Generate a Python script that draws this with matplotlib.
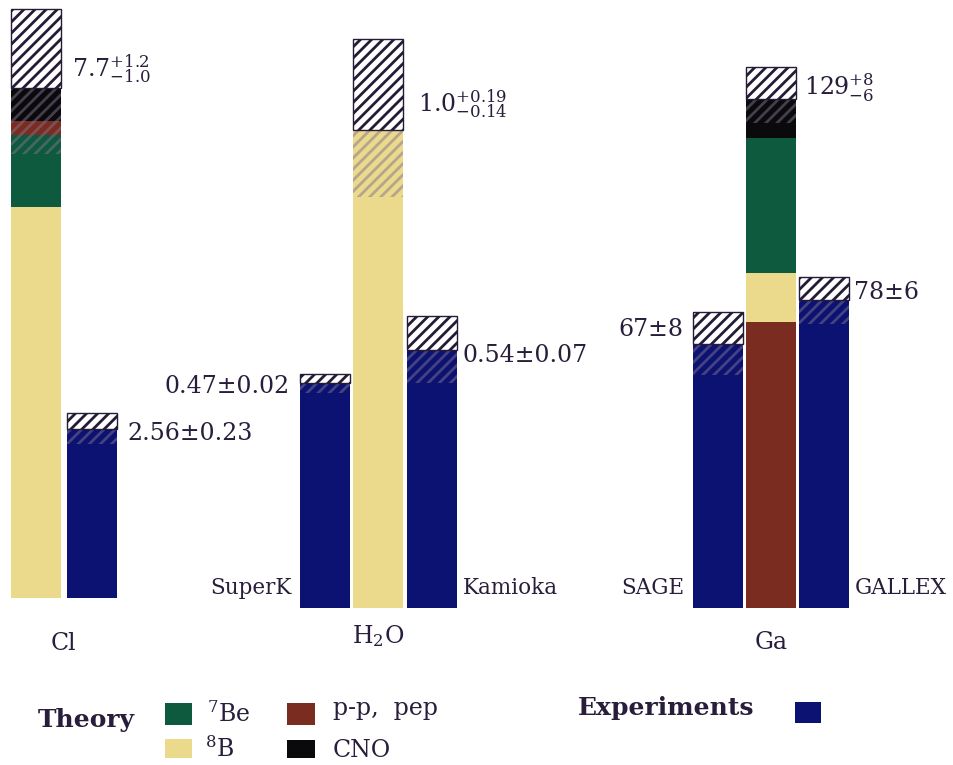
import matplotlib.pyplot as plt
from matplotlib.patches import Rectangle

# ---- data ---------------------------------------------------------------
groups = ["Cl", "H$_2$O", "Ga"]

# theory contributions per target, stacked bottom -> top
theory_sources = [
    ["8B", "7Be", "pp", "CNO"],
    ["8B"],
    ["pp", "8B", "7Be", "CNO"],
]
theory_values = [
    [5.9, 1.1, 0.2, 0.5],      # Cl, SNU
    [1.0],                     # H2O, ratio to SSM
    [72.4, 12.4, 34.4, 9.8],   # Ga, SNU
]
theory_err = [(1.2, 1.0), (0.19, 0.14), (8, 6)]
theory_labels = [r"7.7$^{+1.2}_{-1.0}$", r"1.0$^{+0.19}_{-0.14}$", r"129$^{+8}_{-6}$"]

exp_names = [[""], ["SuperK", "Kamioka"], ["SAGE", "GALLEX"]]
exp_values = [[2.56], [0.47, 0.54], [67, 78]]
exp_err = [[0.23], [0.02, 0.07], [8, 6]]
exp_labels = [["2.56\u00b10.23"], ["0.47\u00b10.02", "0.54\u00b10.07"], ["67\u00b18", "78\u00b16"]]

colors = {"7Be": "#0e5a3e", "8B": "#ebd98c", "pp": "#7b2c21", "CNO": "#0a0a0c"}
exp_color = "#0b1272"
text_color = "#281d3a"
hatch_dark = "#241b36"
hatch_soft = (0.5, 0.45, 0.55, 0.5)

# ---- layout (pixels of the 954x765 canvas) ------------------------------
W, H = 954, 765
layout = [
    dict(base=598, scale=66.2, x0=35.5, step=56, bw=50, slots=[1], th=0,
         th_off=(11, 12), exp_off=[(11, -11)], grp_dy=52),
    dict(base=608, scale=478, x0=325, step=53.5, bw=50, slots=[0, 2], th=1,
         th_off=(15, 19), exp_off=[(-10, -10), (6, -12)], grp_dy=35),
    dict(base=608, scale=3.946, x0=717.7, step=53.2, bw=50, slots=[0, 2], th=1,
         th_off=(8, 3), exp_off=[(-9, 8), (5, 1)], grp_dy=41),
]

plt.rcParams["font.family"] = "DejaVu Serif"
plt.rcParams["mathtext.fontset"] = "dejavuserif"
plt.rcParams["hatch.linewidth"] = 2.0

fig = plt.figure(figsize=(W / 100, H / 100), dpi=100)


def error_box(ax, x, w, val, ep, em):
    ax.bar(x, em, bottom=val - em, width=w, facecolor="none",
           edgecolor=hatch_soft, hatch="///", linewidth=0)
    ax.bar(x, ep, bottom=val, width=w, color="white",
           edgecolor=hatch_dark, hatch="///", linewidth=1)


for g, lay in enumerate(layout):
    n = len(lay["slots"]) + 1
    left = lay["x0"] - lay["step"] / 2
    ax = fig.add_axes([left / W, (H - lay["base"]) / H, n * lay["step"] / W, lay["base"] / H])
    ax.set_xlim(-0.5, n - 0.5)
    ax.set_ylim(0, lay["base"] / lay["scale"])
    ax.axis("off")
    w = lay["bw"] / lay["step"]

    # theory stack
    xt = lay["th"]
    bottom = 0
    for src, v in zip(theory_sources[g], theory_values[g]):
        ax.bar(xt, v, bottom=bottom, width=w, color=colors[src], linewidth=0)
        bottom += v
    ep, em = theory_err[g]
    error_box(ax, xt, w, bottom, ep, em)
    ax.annotate(theory_labels[g], xy=(xt + w / 2, bottom), xytext=lay["th_off"],
                textcoords="offset pixels", ha="left", va="baseline",
                fontsize=17, color=text_color, annotation_clip=False)

    # experiments
    for k, xe in enumerate(lay["slots"]):
        val = exp_values[g][k]
        ax.bar(xe, val, width=w, color=exp_color, linewidth=0)
        error_box(ax, xe, w, val, exp_err[g][k], exp_err[g][k])
        on_left = xe < xt
        dx, dy = lay["exp_off"][k]
        ax.annotate(exp_labels[g][k], xy=(xe - w / 2 if on_left else xe + w / 2, val),
                    xytext=(dx, dy), textcoords="offset pixels",
                    ha="right" if on_left else "left", va="baseline",
                    fontsize=17, color=text_color, annotation_clip=False)
        if exp_names[g][k]:
            ax.annotate(exp_names[g][k], xy=(xe - w / 2 if on_left else xe + w / 2, 0),
                        xytext=(-8 if on_left else 6, 14), textcoords="offset pixels",
                        ha="right" if on_left else "left", va="baseline",
                        fontsize=15.5, color=text_color, annotation_clip=False)

    ax.annotate(groups[g], xy=((n - 1) / 2, 0), xytext=(0, -lay["grp_dy"]),
                textcoords="offset pixels", ha="center", va="baseline",
                fontsize=17, color=text_color, annotation_clip=False)


# ---- legend --------------------------------------------------------------
def px_rect(x0, y0, x1, y1, color):
    fig.add_artist(Rectangle((x0 / W, 1 - y1 / H), (x1 - x0) / W, (y1 - y0) / H,
                             transform=fig.transFigure, color=color, linewidth=0))


def px_text(x, y, s, **kw):
    fig.text(x / W, 1 - y / H, s, ha="left", va="baseline", color=text_color, **kw)


px_text(38, 727, "Theory", fontsize=18, fontweight="bold")
px_rect(165, 703, 192, 725, colors["7Be"])
px_text(207, 722, "$^{7}$Be", fontsize=17)
px_rect(287, 703, 315, 725, colors["pp"])
px_text(333, 715, "p-p,  pep", fontsize=17)
px_rect(165, 739, 192, 758, colors["8B"])
px_text(205, 757, "$^{8}$B", fontsize=17)
px_rect(287, 740, 315, 758, colors["CNO"])
px_text(333, 757, "CNO", fontsize=17)

px_text(578, 715, "Experiments", fontsize=18, fontweight="bold")
px_rect(795, 702, 821, 723, exp_color)

fig.savefig("out.png", dpi=100)
